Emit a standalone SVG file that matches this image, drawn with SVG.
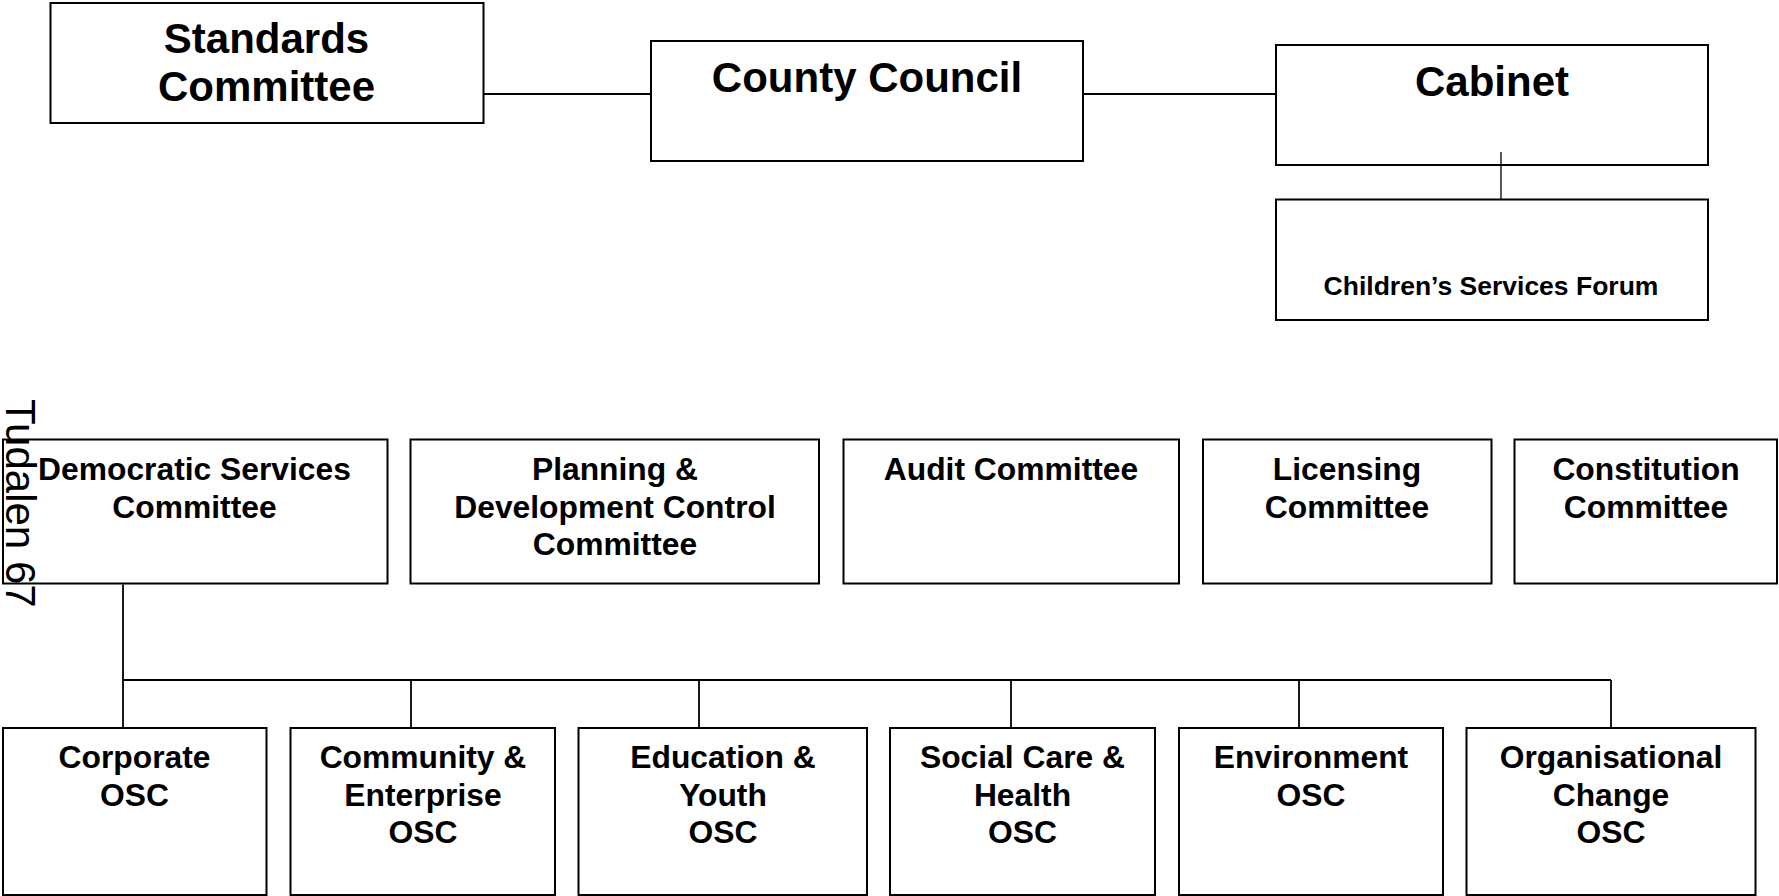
<svg xmlns="http://www.w3.org/2000/svg" width="1779" height="896" viewBox="0 0 1779 896">
<style>
.box{fill:#fff;stroke:#000;stroke-width:2}
.c{fill:none;stroke:#000;stroke-width:1.8}
.t{font-family:"Liberation Sans",Arial,sans-serif;font-weight:bold;text-anchor:middle;fill:#000}
.big{font-size:42px}
.mid{font-size:31.8px}
.sm{font-size:26.5px}
.pg{font-family:"Liberation Sans",Arial,sans-serif;font-size:42px;fill:#000}
</style>
<rect width="1779" height="896" fill="#fff"/>
<g id="standards"><rect class="box" x="50.5" y="3" width="433" height="120"/>
<text class="t big" x="266.5" y="53">Standards</text><text class="t big" x="266.5" y="101">Committee</text></g>
<g id="council"><rect class="box" x="651" y="41" width="432" height="120"/>
<text class="t big" x="867" y="92">County Council</text></g>
<g id="cabinet"><rect class="box" x="1276" y="45" width="432" height="120"/>
<text class="t big" x="1492" y="96">Cabinet</text></g>
<g id="csf"><rect class="box" x="1276" y="199.5" width="432" height="120.5"/>
<text class="t sm" x="1491" y="295">Children’s Services Forum</text></g>
<g id="democratic"><rect class="box" x="3" y="439.5" width="384.5" height="144"/>
<text class="t mid" x="194.5" y="480">Democratic Services</text><text class="t mid" x="194.5" y="517.5">Committee</text></g>
<g id="planning"><rect class="box" x="410.5" y="439.5" width="408.5" height="144"/>
<text class="t mid" x="615" y="480">Planning &amp;</text><text class="t mid" x="615" y="517.5">Development Control</text><text class="t mid" x="615" y="555">Committee</text></g>
<g id="audit"><rect class="box" x="843.5" y="439.5" width="335.5" height="144"/>
<text class="t mid" x="1011" y="480">Audit Committee</text></g>
<g id="licensing"><rect class="box" x="1203" y="439.5" width="288.5" height="144"/>
<text class="t mid" x="1347" y="480">Licensing</text><text class="t mid" x="1347" y="517.5">Committee</text></g>
<g id="constitution"><rect class="box" x="1514.5" y="439.5" width="262.5" height="144"/>
<text class="t mid" x="1646" y="480">Constitution</text><text class="t mid" x="1646" y="517.5">Committee</text></g>
<g id="corporate"><rect class="box" x="3" y="728" width="263.5" height="167"/>
<text class="t mid" x="134.5" y="768">Corporate</text><text class="t mid" x="134.5" y="806">OSC</text></g>
<g id="community"><rect class="box" x="290.5" y="728" width="264.5" height="167"/>
<text class="t mid" x="423" y="768">Community &amp;</text><text class="t mid" x="423" y="806">Enterprise</text><text class="t mid" x="423" y="843">OSC</text></g>
<g id="education"><rect class="box" x="578.5" y="728" width="288.5" height="167"/>
<text class="t mid" x="723" y="768">Education &amp;</text><text class="t mid" x="723" y="806">Youth</text><text class="t mid" x="723" y="843">OSC</text></g>
<g id="social"><rect class="box" x="890" y="728" width="265" height="167"/>
<text class="t mid" x="1022.5" y="768">Social Care &amp;</text><text class="t mid" x="1022.5" y="806">Health</text><text class="t mid" x="1022.5" y="843">OSC</text></g>
<g id="environment"><rect class="box" x="1179" y="728" width="264" height="167"/>
<text class="t mid" x="1311" y="768">Environment</text><text class="t mid" x="1311" y="806">OSC</text></g>
<g id="organisational"><rect class="box" x="1466.5" y="728" width="289" height="167"/>
<text class="t mid" x="1611" y="768">Organisational</text><text class="t mid" x="1611" y="806">Change</text><text class="t mid" x="1611" y="843">OSC</text></g>
<g id="connectors">
<line class="c" x1="483.5" y1="94" x2="651" y2="94"/>
<line class="c" x1="1083" y1="94" x2="1276" y2="94"/>
<line class="c" x1="1501" y1="152" x2="1501" y2="199" style="stroke-width:1.3"/>
<line class="c" x1="123" y1="584.5" x2="123" y2="727"/>
<line class="c" x1="123" y1="680" x2="1611" y2="680"/>
<line class="c" x1="411" y1="680" x2="411" y2="727"/>
<line class="c" x1="699" y1="680" x2="699" y2="727"/>
<line class="c" x1="1011" y1="680" x2="1011" y2="727"/>
<line class="c" x1="1299" y1="680" x2="1299" y2="727"/>
<line class="c" x1="1611" y1="680" x2="1611" y2="727"/>
</g>
<g id="page-label"><text class="pg" transform="translate(6,399) rotate(90)">Tudalen 67</text></g>
</svg>
